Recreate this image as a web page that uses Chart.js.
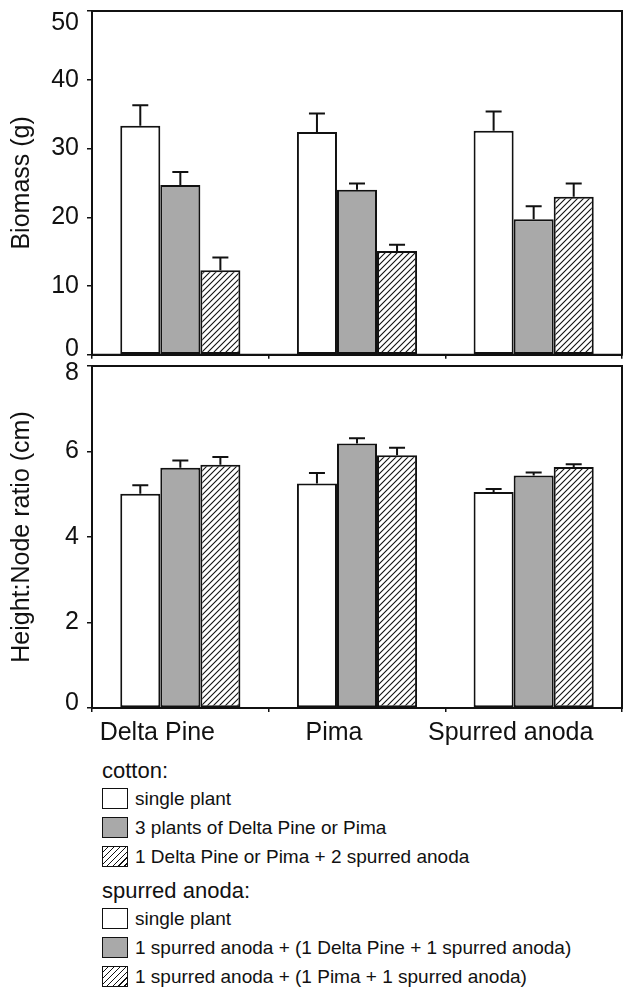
<!DOCTYPE html>
<html>
<head>
<meta charset="utf-8">
<script src="https://cdn.jsdelivr.net/npm/chart.js@4.4.0/dist/chart.umd.min.js"></script>
<style>
  body { margin: 0; background: #fff; width: 626px; height: 989px; position: relative; overflow: hidden; font-family: "Liberation Sans", Arial, sans-serif; color: #111; }
  canvas { position: absolute; left: 0; }
  #legend { position: absolute; left: 102px; top: 757px; }
  .head { font-size: 22px; height: 27px; line-height: 27px; }
  .row { display: flex; align-items: center; height: 29px; font-size: 19px; }
  .sw { width: 24px; height: 19px; border: 1.5px solid #111; margin-right: 7px; box-sizing: content-box; }
  .white { background: #fff; }
  .gray { background: #a9a9a9; }
  .hatch { background: repeating-linear-gradient(135deg, #fff 0 3px, #111 3px 4.2px); }
  .gap { height: 6px; }
</style>
</head>
<body>
<canvas id="biomassChart" width="626" height="396" style="top:-22px"></canvas>
<canvas id="ratioChart" width="626" height="411" style="top:343px"></canvas>
<div id="legend"></div>
<script>
// categorieen
const groups = ['Delta Pine', 'Pima', 'Spurred anoda'];

// biomassa (g), bovenste paneel
const biomassSingle = [33.3, 32.4, 32.6];
const biomassThree = [24.7, 24.0, 19.7];
const biomassMixed = [12.3, 15.1, 23.0];
const biomassSingleErr = [3.0, 2.7, 2.8];
const biomassThreeErr = [1.9, 0.9, 1.9];
const biomassMixedErr = [1.85, 0.9, 1.9];

// height:node ratio (cm), onderste paneel
const ratioSingle = [5.01, 5.25, 5.05];
const ratioThree = [5.62, 6.19, 5.44];
const ratioMixed = [5.69, 5.91, 5.64];
const ratioSingleErr = [0.2, 0.25, 0.07];
const ratioThreeErr = [0.17, 0.12, 0.07];
const ratioMixedErr = [0.18, 0.18, 0.06];

// y-as ticks
const biomassMax = 50, biomassStep = 10;
const ratioMax = 8, ratioStep = 2;

// legenda teksten
const cottonLegend = ['single plant', '3 plants of Delta Pine or Pima', '1 Delta Pine or Pima + 2 spurred anoda'];
const anodaLegend = ['single plant', '1 spurred anoda + (1 Delta Pine + 1 spurred anoda)', '1 spurred anoda + (1 Pima + 1 spurred anoda)'];
const swatchClass = ['white', 'gray', 'hatch'];

const font = '"Liberation Sans", Arial, sans-serif';
const ink = '#111';

// arcering patroon "/"
const pc = document.createElement('canvas');
pc.width = 6; pc.height = 6;
const p = pc.getContext('2d');
p.fillStyle = '#fff'; p.fillRect(0, 0, 6, 6);
p.strokeStyle = '#111'; p.lineWidth = 1.1;
p.beginPath();
p.moveTo(0, 6); p.lineTo(6, 0);
p.moveTo(-1, 1); p.lineTo(1, -1);
p.moveTo(5, 7); p.lineTo(7, 5);
p.stroke();
const hatch = p.createPattern(pc, 'repeat');

const errorBars = {
  id: 'errorBars',
  afterDatasetsDraw(chart) {
    const c = chart.ctx;
    const y = chart.scales.y;
    c.save();
    c.strokeStyle = ink; c.lineWidth = 2;
    chart.data.datasets.forEach((ds, i) => {
      chart.getDatasetMeta(i).data.forEach((bar, j) => {
        const top = y.getPixelForValue(ds.data[j] + ds.errors[j]);
        c.beginPath();
        c.moveTo(bar.x, bar.y); c.lineTo(bar.x, top);
        c.moveTo(bar.x - 8, top); c.lineTo(bar.x + 8, top);
        c.stroke();
      });
    });
    c.restore();
  }
};

const frame = {
  id: 'frame',
  afterDraw(chart) {
    const a = chart.chartArea;
    const c = chart.ctx;
    c.save();
    c.strokeStyle = ink; c.lineWidth = 2;
    c.strokeRect(a.left, a.top, a.right - a.left, a.bottom - a.top);
    c.restore();
  }
};

// eerste en laatste label iets naar binnen schuiven (via een lege regel)
function makeChart(id, single, three, mixed, errs, title, max, step, showLabels, topLh, zeroLh) {
  return new Chart(document.getElementById(id), {
    type: 'bar',
    data: {
      labels: groups,
      datasets: [
        { label: 'single plant', data: single, errors: errs[0], backgroundColor: '#fff' },
        { label: '3 plants', data: three, errors: errs[1], backgroundColor: '#a9a9a9' },
        { label: 'mixed', data: mixed, errors: errs[2], backgroundColor: hatch }
      ]
    },
    options: {
      responsive: false,
      animation: false,
      layout: { padding: { right: 4 } },
      datasets: { bar: { categoryPercentage: 0.68, barPercentage: 1, borderColor: ink, borderWidth: 2, borderSkipped: false } },
      plugins: { legend: { display: false }, tooltip: { enabled: false } },
      scales: {
        x: {
          grid: { drawOnChartArea: false, tickLength: 4, color: ink, lineWidth: 1.5 },
          border: { color: ink, width: 2 },
          ticks: { display: showLabels, color: ink, font: { family: font, size: 25 }, padding: 6, labelOffset: -23, maxRotation: 0 }
        },
        y: {
          min: 0, max: max,
          afterFit(scale) { scale.width = 92; },
          grid: { drawOnChartArea: false, tickLength: 5, color: ink, lineWidth: 1.5 },
          border: { color: ink, width: 2 },
          ticks: {
            stepSize: step, color: ink, padding: 8,
            callback: (v) => v === max ? ['', String(v)] : (v === 0 ? [String(v), ''] : String(v)),
            font: (ctx) => {
              const v = ctx.tick ? ctx.tick.value : null;
              return { family: font, size: 25, lineHeight: v === max ? topLh : (v === 0 ? zeroLh : 1.2) };
            }
          },
          title: { display: true, text: title, color: ink, font: { family: font, size: 25 }, padding: { top: 7, bottom: 0 } }
        }
      }
    },
    plugins: [errorBars, frame]
  });
}

makeChart('biomassChart', biomassSingle, biomassThree, biomassMixed,
  [biomassSingleErr, biomassThreeErr, biomassMixedErr], 'Biomass (g)', biomassMax, biomassStep, false, 1.0, 0.45);
makeChart('ratioChart', ratioSingle, ratioThree, ratioMixed,
  [ratioSingleErr, ratioThreeErr, ratioMixedErr], 'Height:Node ratio (cm)', ratioMax, ratioStep, true, 0.6, 0.4);

// legenda opbouwen
function legendBlock(head, items) {
  let html = '<div class="head">' + head + '</div>';
  items.forEach((txt, i) => {
    html += '<div class="row"><div class="sw ' + swatchClass[i] + '"></div><span>' + txt + '</span></div>';
  });
  return html;
}
document.getElementById('legend').innerHTML =
  legendBlock('cotton:', cottonLegend) + '<div class="gap"></div>' + legendBlock('spurred anoda:', anodaLegend);
</script>
</body>
</html>
